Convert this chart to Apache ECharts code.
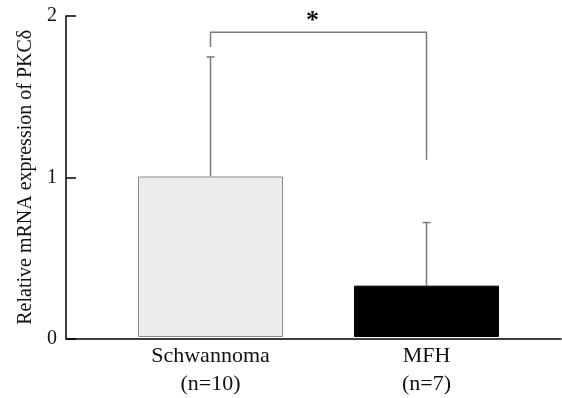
<!DOCTYPE html>
<html>
<head>
<meta charset="utf-8">
<script src="https://cdn.jsdelivr.net/npm/echarts@6/dist/echarts.min.js"></script>
<style>html,body{margin:0;padding:0;background:#fff;}#chart{width:562px;height:398px;}</style>
</head>
<body>
<div id="chart"></div>
<script>
const categories = ['Schwannoma', 'MFH'];
const sampleSizes = ['(n=10)', '(n=7)'];
const means = [1.0, 0.32];
const errorTops = [1.745, 0.713];
const barColors = ['#ececec', '#000000'];
const bracketLevels = [1.807, 1.898, 1.105]; // left leg bottom, top line, right leg bottom
const starText = '*';
const starLevel = 1.965;
const yTicks = [0, 1, 2];

const FONT = 'Liberation Serif';
const chart = echarts.init(document.getElementById('chart'));
const grey = '#7a7a7a';

chart.setOption({
  animation: false,
  backgroundColor: '#fff',
  grid: [
    { left: 66, right: 1, top: 16, bottom: 59.5 },
    { left: 102.5, right: 27.5, top: 16, bottom: 59.5 }
  ],
  xAxis: [
    { gridIndex: 0, type: 'value', min: 0, max: 1,
      axisLine: { show: true, lineStyle: { color: '#000', width: 1.5 } },
      axisTick: { show: false }, axisLabel: { show: false }, splitLine: { show: false } },
    { gridIndex: 1, type: 'category', data: categories,
      axisLine: { show: false }, axisTick: { show: false },
      axisLabel: {
        margin: 5,
        fontFamily: FONT, fontSize: 22, color: '#111', lineHeight: 28,
        formatter: (v, i) => v + '\n' + sampleSizes[i]
      } }
  ],
  yAxis: [
    { gridIndex: 0, type: 'value', min: yTicks[0], max: yTicks[yTicks.length - 1], interval: 1,
      axisLine: { show: true, lineStyle: { color: '#000', width: 1.5 } },
      axisTick: { show: true, inside: true, length: 10, lineStyle: { color: '#000', width: 1.5 } },
      axisLabel: { margin: 9, fontFamily: FONT, fontSize: 20, color: '#111' },
      splitLine: { show: false },
      name: 'Relative mRNA expression of PKCδ',
      nameLocation: 'middle', nameGap: 30,
      nameTextStyle: { fontFamily: FONT, fontSize: 20, color: '#111' } },
    { gridIndex: 1, type: 'value', min: yTicks[0], max: yTicks[yTicks.length - 1], show: false }
  ],
  series: [
    { type: 'bar', xAxisIndex: 1, yAxisIndex: 1, barWidth: 145,
      data: means.map((v, i) => ({ value: v, itemStyle: { color: barColors[i], borderColor: i === 0 ? '#8a8a8a' : '#000', borderWidth: 1 } })) },
    { type: 'custom', xAxisIndex: 1, yAxisIndex: 1, clip: false, z: 1,
      data: categories.map((c, i) => [i, means[i], errorTops[i]]),
      renderItem: function (params, api) {
        const top = api.coord([api.value(0), api.value(2)]);
        const base = api.coord([api.value(0), api.value(1)]);
        const st = { stroke: grey, lineWidth: 1.5 };
        return { type: 'group', children: [
          { type: 'line', shape: { x1: top[0], y1: top[1], x2: base[0], y2: base[1] }, style: st },
          { type: 'line', shape: { x1: top[0] - 4, y1: top[1], x2: top[0] + 4, y2: top[1] }, style: st }
        ] };
      } },
    { type: 'custom', xAxisIndex: 1, yAxisIndex: 1, clip: false, z: 3,
      data: [[0, 1, bracketLevels[0], bracketLevels[1], bracketLevels[2], starLevel]],
      renderItem: function (params, api) {
        const a = api.coord([api.value(0), api.value(2)]);
        const b = api.coord([api.value(0), api.value(3)]);
        const c = api.coord([api.value(1), api.value(3)]);
        const d = api.coord([api.value(1), api.value(4)]);
        const s = api.coord([api.value(0), api.value(5)]);
        return { type: 'group', children: [
          { type: 'polyline', shape: { points: [a, b, c, d] }, style: { stroke: grey, lineWidth: 1.5, fill: null } },
          { type: 'text', x: (b[0] + c[0]) / 2 - 6, y: s[1],
            style: { text: starText, font: 'bold 26px "' + FONT + '"', fill: '#111', align: 'center', verticalAlign: 'middle' } }
        ] };
      } }
  ]
});
</script>
</body>
</html>
